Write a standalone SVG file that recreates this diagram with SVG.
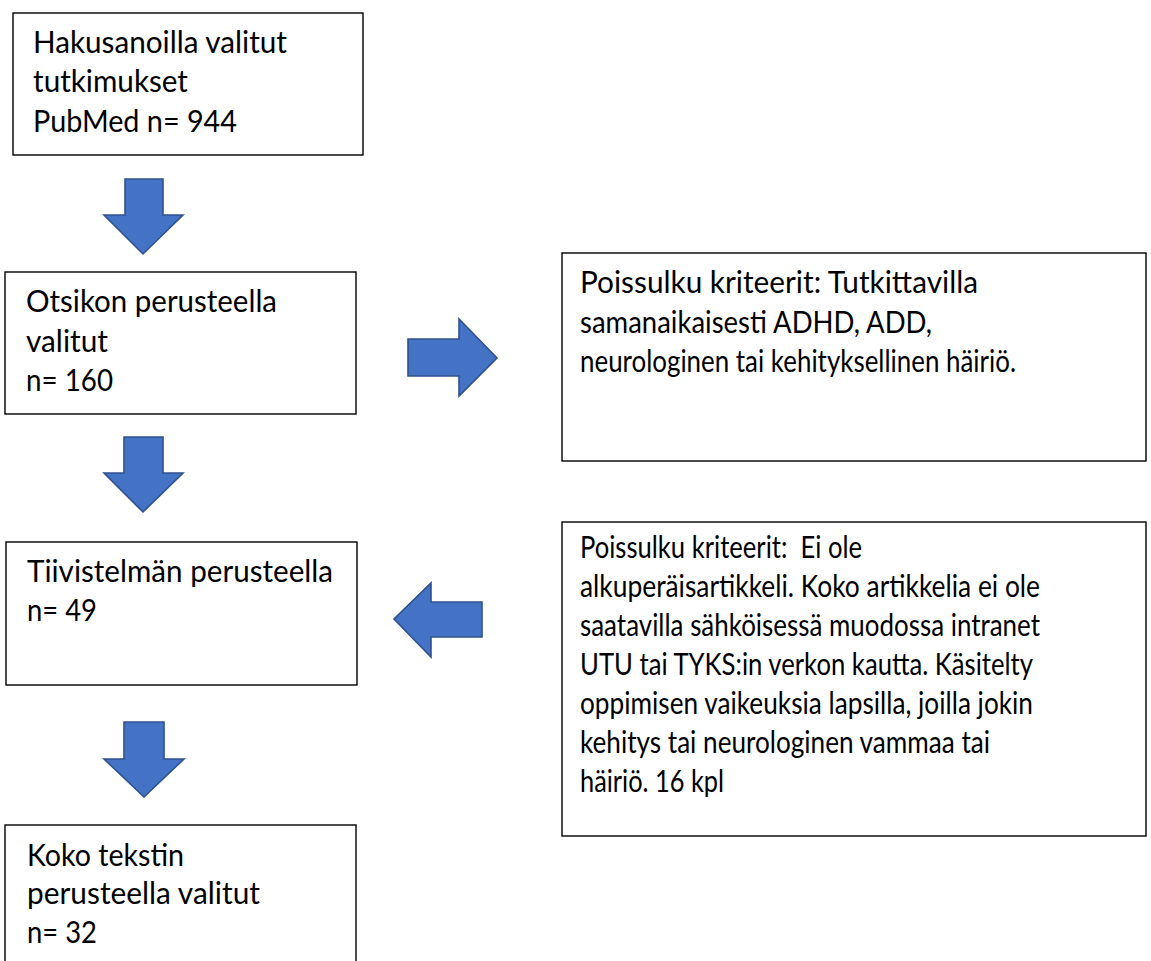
<svg xmlns="http://www.w3.org/2000/svg" width="1151" height="961" viewBox="0 0 1151 961">
<style>
.box{fill:#fff;stroke:#000;stroke-width:1.4}
.arr{fill:#4472C4;stroke:#2F528F;stroke-width:1.6;stroke-linejoin:miter}
text{font-family:Lato,"Open Sans","Liberation Sans",sans-serif;font-size:30px;fill:#000}
</style>
<rect width="1151" height="961" fill="#fff"/>
<g id="n1">
<rect class="box" x="13" y="13" width="350" height="142"/>
<text x="33" y="53" textLength="254" lengthAdjust="spacingAndGlyphs">Hakusanoilla valitut</text>
<text x="33" y="92" textLength="155" lengthAdjust="spacingAndGlyphs">tutkimukset</text>
<text x="33" y="132" textLength="204" lengthAdjust="spacingAndGlyphs">PubMed n= 944</text>
</g>
<g id="n2">
<rect class="box" x="5" y="272" width="351" height="142"/>
<text x="26" y="312" textLength="251" lengthAdjust="spacingAndGlyphs">Otsikon perusteella</text>
<text x="26" y="352" textLength="82" lengthAdjust="spacingAndGlyphs">valitut</text>
<text x="26" y="391" textLength="87" lengthAdjust="spacingAndGlyphs">n= 160</text>
</g>
<g id="n3">
<rect class="box" x="6" y="542" width="351" height="143"/>
<text x="27" y="582" textLength="306" lengthAdjust="spacingAndGlyphs">Tiivistelmän perusteella</text>
<text x="27" y="621" textLength="70" lengthAdjust="spacingAndGlyphs">n= 49</text>
</g>
<g id="n4">
<rect class="box" x="5" y="825" width="351" height="180"/>
<text x="27" y="866" textLength="157" lengthAdjust="spacingAndGlyphs">Koko tekstin</text>
<text x="27" y="904" textLength="233" lengthAdjust="spacingAndGlyphs">perusteella valitut</text>
<text x="27" y="943" textLength="70" lengthAdjust="spacingAndGlyphs">n= 32</text>
</g>
<g id="n5">
<rect class="box" x="562" y="253" width="584" height="208"/>
<text x="580" y="293" textLength="398" lengthAdjust="spacingAndGlyphs">Poissulku kriteerit: Tutkittavilla</text>
<text x="580" y="333" textLength="352" lengthAdjust="spacingAndGlyphs">samanaikaisesti ADHD, ADD,</text>
<text x="580" y="372" textLength="436" lengthAdjust="spacingAndGlyphs">neurologinen tai kehityksellinen häiriö.</text>
</g>
<g id="n6">
<rect class="box" x="562" y="522" width="584" height="314"/>
<text x="580" y="558" textLength="282" lengthAdjust="spacingAndGlyphs" xml:space="preserve">Poissulku kriteerit:  Ei ole</text>
<text x="580" y="597" textLength="460" lengthAdjust="spacingAndGlyphs">alkuperäisartikkeli. Koko artikkelia ei ole</text>
<text x="580" y="636" textLength="460" lengthAdjust="spacingAndGlyphs">saatavilla sähköisessä muodossa intranet</text>
<text x="580" y="675" textLength="453" lengthAdjust="spacingAndGlyphs">UTU tai TYKS:in verkon kautta. Käsitelty</text>
<text x="580" y="714" textLength="453" lengthAdjust="spacingAndGlyphs">oppimisen vaikeuksia lapsilla, joilla jokin</text>
<text x="580" y="753" textLength="410" lengthAdjust="spacingAndGlyphs">kehitys tai neurologinen vammaa tai</text>
<text x="580" y="792" textLength="144" lengthAdjust="spacingAndGlyphs">häiriö. 16 kpl</text>
</g>
<g id="connectors">
<polygon class="arr" points="125,179 163,179 163,215 183,215 143,254 104,215 125,215"/>
<polygon class="arr" points="124,437 163,437 163,473 183,473 143,512 104,473 124,473"/>
<polygon class="arr" points="124,722 164,722 164,759 184,759 144,797 104,759 124,759"/>
<polygon class="arr" points="408,339 459,339 459,319 497,358 459,396 459,376 408,376"/>
<polygon class="arr" points="482,602 431,602 431,583 394,619 431,657 431,637 482,637"/>
</g>
</svg>
